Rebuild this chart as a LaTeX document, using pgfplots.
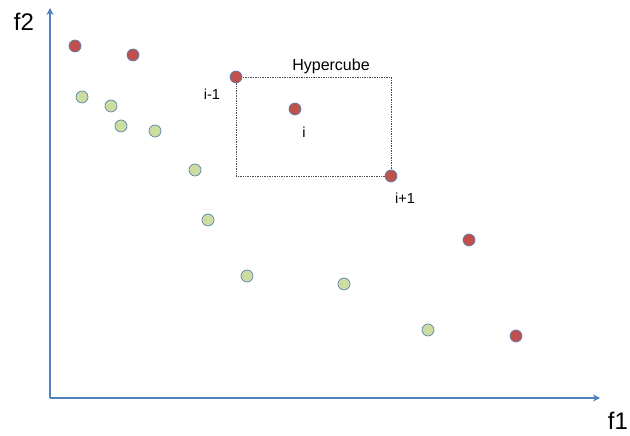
\documentclass[border=0pt]{standalone}
\usepackage{fontspec}
\setmainfont{Liberation Sans}
\usepackage{pgfplots}
\pgfplotsset{compat=1.18}
\usetikzlibrary{arrows.meta}
\definecolor{axblue}{RGB}{79,129,189}
\definecolor{ptred}{RGB}{192,80,77}
\definecolor{ptgreen}{RGB}{205,221,160}
\definecolor{ptedge}{RGB}{90,130,175}
\begin{document}
\begin{tikzpicture}[x=1pt,y=1pt]
\useasboundingbox (0,0) rectangle (630,436);
\begin{axis}[
  at={(50pt,38pt)}, anchor=origin,
  scale only axis, width=550pt, height=390pt,
  xmin=50, xmax=600, ymin=38, ymax=428,
  enlargelimits=false, clip=false,
  axis lines=left,
  axis line style={axblue, line width=1.5pt, -{Stealth[length=7pt,width=7pt]}},
  ticks=none,
]
\addplot[black!70, densely dotted, line width=0.7pt] coordinates {(236,359) (391,359) (391,260) (236,260) (236,359)};
\addplot[only marks, mark=*, mark size=6pt, mark options={fill=ptgreen, draw=ptedge, line width=0.7pt}] coordinates {
(82,339) (111,330) (121,310) (155,305) (195,266) (208,216) (247,160) (344,152) (428,106)};
\addplot[only marks, mark=*, mark size=6pt, mark options={fill=ptred, draw=ptedge, line width=0.7pt}] coordinates {
(75,390) (133,381) (236,359) (295,327) (391,260) (469,196) (516,100)};
\node[font=\fontsize{16}{19}\selectfont] at (axis cs:331,370) {Hypercube};
\node[font=\fontsize{14.5}{17}\selectfont] at (axis cs:212,342) {i-1};
\node[font=\fontsize{14.5}{17}\selectfont] at (axis cs:304,304) {i};
\node[font=\fontsize{14.5}{17}\selectfont] at (axis cs:405,238) {i+1};
\end{axis}
\node[font=\fontsize{24}{28}\selectfont] at (618,15) {f1};
\node[font=\fontsize{24}{28}\selectfont] at (24,414) {f2};
\end{tikzpicture}
\end{document}
